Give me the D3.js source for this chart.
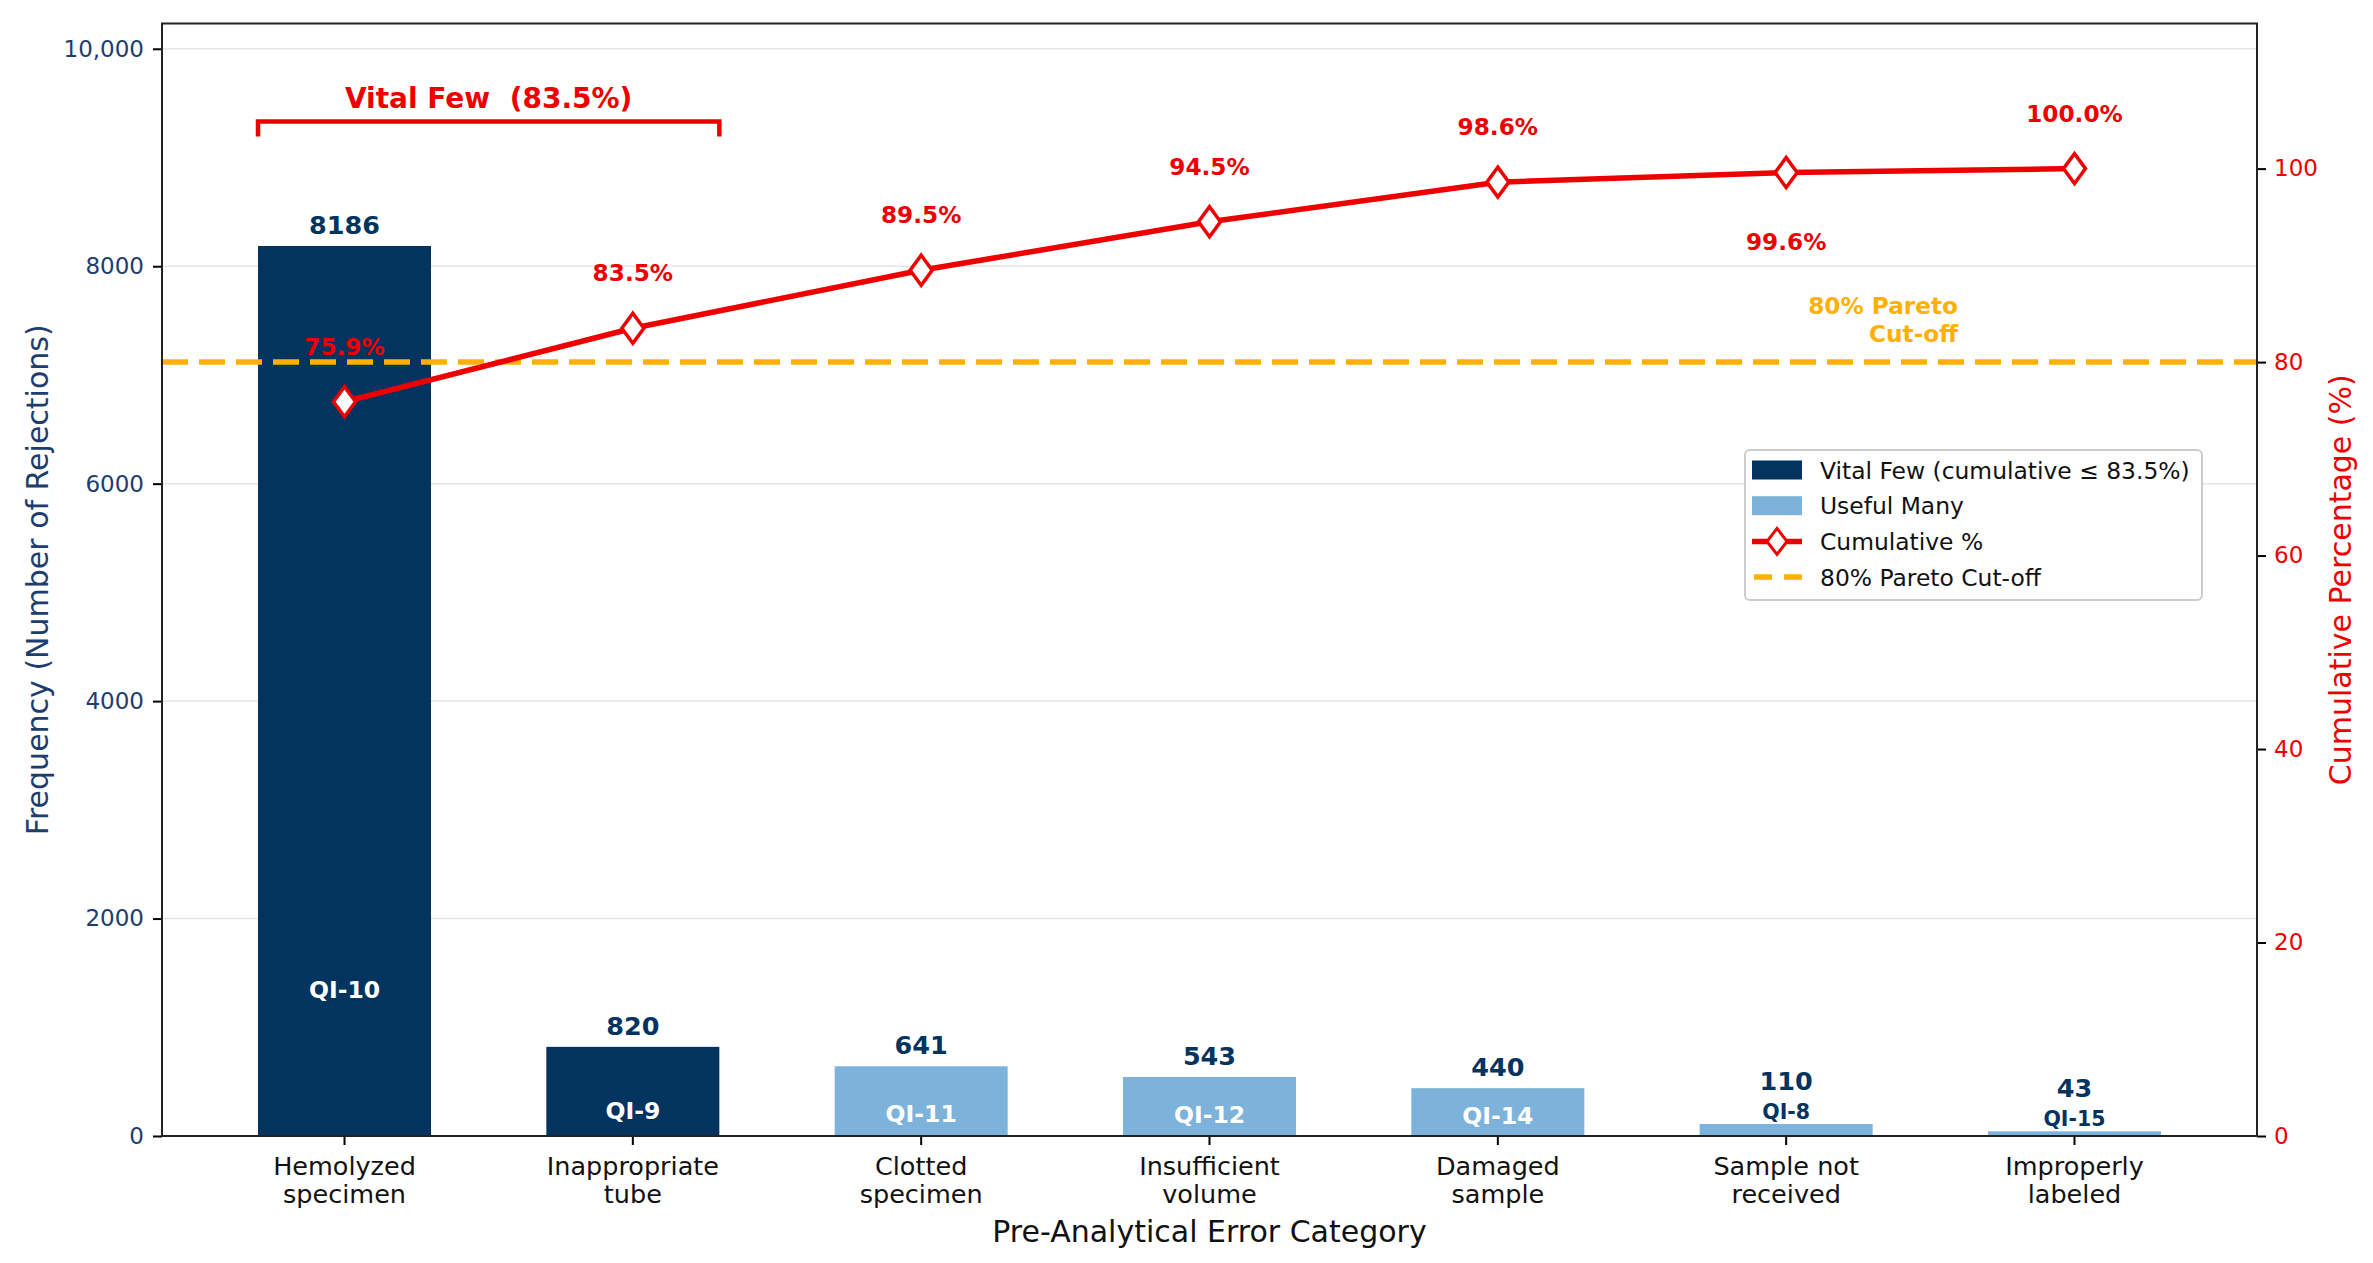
<!DOCTYPE html>
<html>
<head>
<meta charset="utf-8">
<script src="https://cdn.jsdelivr.net/npm/d3@7"></script>
<style>
  body { margin: 0; background: #fff; }
  svg { display: block; font-family: "DejaVu Sans", sans-serif; }
</style>
</head>
<body>
<svg id="chart"></svg>
<script>
// data
const categories = ["Hemolyzed\nspecimen", "Inappropriate\ntube", "Clotted\nspecimen", "Insufficient\nvolume",
  "Damaged\nsample", "Sample not\nreceived", "Improperly\nlabeled"];
const codes = ["QI-10", "QI-9", "QI-11", "QI-12", "QI-14", "QI-8", "QI-15"];
const counts = [8186, 820, 641, 543, 440, 110, 43];
const cumPct = [75.9, 83.5, 89.5, 94.5, 98.6, 99.6, 100.0];
const vitalCutoff = 83.5;
const paretoCut = 80;
const leftTicks = [0, 2000, 4000, 6000, 8000, 10000];
const leftTickLabels = ["0", "2000", "4000", "6000", "8000", "10,000"];
const rightTicks = [0, 20, 40, 60, 80, 100];

const W = 2373, H = 1263;
const pL = 162, pR = 2257, pT = 23.5, pB = 1136;

const navy = "#03335f", light = "#7db3da", red = "#ee0000", orange = "#ffb000", tickNavy = "#1c3d6e";

const svg = d3.select("#chart").attr("width", W).attr("height", H);

const x = d3.scaleBand().domain(d3.range(counts.length)).range([pL, pR])
  .paddingInner(0.4).paddingOuter(0.333);
const yL = d3.scaleLinear().domain([0, d3.max(counts) * 1.25]).range([pB, pT]);
const yR = d3.scaleLinear().domain([0, 115]).range([pB, pT]);
const cx = i => x(i) + x.bandwidth() / 2;

//gridlines
svg.append("g").selectAll("line").data(leftTicks).enter().append("line")
  .attr("x1", pL).attr("x2", pR)
  .attr("y1", d => yL(d)).attr("y2", d => yL(d))
  .attr("stroke", "#e6e6e6").attr("stroke-width", 1.5);

// bars
svg.append("g").selectAll("rect").data(counts).enter().append("rect")
  .attr("x", (d, i) => x(i))
  .attr("width", x.bandwidth())
  .attr("y", d => yL(d))
  .attr("height", d => pB - yL(d))
  .attr("fill", (d, i) => cumPct[i] <= vitalCutoff ? navy : light);

// value labels + QI codes
const small = d => pB - yL(d) < 30;
svg.append("g").selectAll("text").data(counts).enter().append("text")
  .attr("x", (d, i) => cx(i))
  .attr("y", d => yL(d) - (small(d) ? 34 : 12))
  .attr("text-anchor", "middle")
  .attr("font-size", 25.5).attr("font-weight", "bold").attr("fill", navy)
  .text(d => d);

svg.append("g").selectAll("text").data(counts).enter().append("text")
  .attr("x", (d, i) => cx(i))
  .attr("y", d => {
    const hp = pB - yL(d);
    if (small(d)) return yL(d) - 5;
    if (d > 5000) return yL(d * 0.164) + 8;
    return pB - (14 + hp * 0.12) + 8;
  })
  .attr("text-anchor", "middle")
  .attr("font-weight", "bold")
  .attr("font-size", d => small(d) ? 20.5 : 23.5)
  .attr("fill", d => small(d) ? navy : "#fff")
  .text((d, i) => codes[i]);

// 80% cut-off
svg.append("line")
  .attr("x1", pL).attr("x2", pR)
  .attr("y1", yR(paretoCut)).attr("y2", yR(paretoCut))
  .attr("stroke", orange).attr("stroke-width", 5.5).attr("stroke-dasharray", "26,11");

svg.append("text")
  .attr("x", 1958).attr("y", yR(paretoCut) - 48)
  .attr("text-anchor", "end").attr("font-size", 23.2).attr("font-weight", "bold").attr("fill", orange)
  .text("80% Pareto");
svg.append("text")
  .attr("x", 1958).attr("y", yR(paretoCut) - 20)
  .attr("text-anchor", "end").attr("font-size", 23.2).attr("font-weight", "bold").attr("fill", orange)
  .text("Cut-off");

// cumulative line
const line = d3.line().x((d, i) => cx(i)).y(d => yR(d));
svg.append("path").datum(cumPct)
  .attr("d", line).attr("fill", "none")
  .attr("stroke", red).attr("stroke-width", 5.5).attr("stroke-linejoin", "round");

const diamond = "M0,-15L11,0L0,15L-11,0Z";
svg.append("g").selectAll("path").data(cumPct).enter().append("path")
  .attr("d", diamond)
  .attr("transform", (d, i) => "translate(" + cx(i) + "," + yR(d) + ")")
  .attr("fill", "#fff").attr("stroke", red).attr("stroke-width", 3.5);

svg.append("g").selectAll("text").data(cumPct).enter().append("text")
  .attr("x", (d, i) => cx(i))
  .attr("y", (d, i) => i === cumPct.length - 2 ? yR(d) + 78 : yR(d) - 47)
  .attr("text-anchor", "middle")
  .attr("font-size", 23.2).attr("font-weight", "bold").attr("fill", red)
  .text(d => d.toFixed(1) + "%");

// vital few bracket
const vitalIdx = cumPct.map((d, i) => i).filter(i => cumPct[i] <= vitalCutoff);
const bx1 = x(vitalIdx[0]), bx2 = x(vitalIdx[vitalIdx.length - 1]) + x.bandwidth();
const bTop = yL(d3.max(counts) * 1.14), bTick = yL(d3.max(counts) * 1.123);
svg.append("path")
  .attr("d", "M" + bx1 + "," + bTick + "V" + bTop + "H" + bx2 + "V" + bTick)
  .attr("fill", "none").attr("stroke", red).attr("stroke-width", 4.5);
svg.append("text")
  .attr("x", (bx1 + bx2) / 2).attr("y", yL(d3.max(counts) * 1.155))
  .attr("text-anchor", "middle").style("white-space", "pre")
  .attr("font-size", 28).attr("font-weight", "bold").attr("fill", red)
  .text("Vital Few  (" + vitalCutoff.toFixed(1) + "%)");

// axes
const xAxis = d3.axisBottom(x).tickSize(9).tickSizeOuter(0).tickFormat(i => categories[i]);
const gx = svg.append("g").attr("transform", "translate(0," + pB + ")").call(xAxis);
gx.select(".domain").remove();
gx.selectAll(".tick line").attr("stroke", "#000").attr("stroke-width", 2);
gx.selectAll(".tick text").attr("fill", "#111").attr("font-size", 25.5).attr("font-family", "DejaVu Sans")
  .each(function(i) {
    const t = d3.select(this);
    const parts = categories[i].split("\n");
    t.text(null).attr("y", 0).attr("dy", null);
    parts.forEach((p, k) => {
      t.append("tspan").attr("x", 0).attr("y", 39 + k * 28).text(p);
    });
  });

const yAxisL = d3.axisLeft(yL).tickValues(leftTicks).tickSize(9).tickSizeOuter(0)
  .tickFormat((d, i) => leftTickLabels[i]);
const gyl = svg.append("g").attr("transform", "translate(" + pL + ",0)").call(yAxisL);
gyl.select(".domain").remove();
gyl.selectAll(".tick line").attr("stroke", "#000").attr("stroke-width", 2);
gyl.selectAll(".tick text").attr("fill", tickNavy).attr("font-size", 23).attr("font-family", "DejaVu Sans")
  .attr("x", -18);

const yAxisR = d3.axisRight(yR).tickValues(rightTicks).tickSize(9).tickSizeOuter(0);
const gyr = svg.append("g").attr("transform", "translate(" + pR + ",0)").call(yAxisR);
gyr.select(".domain").remove();
gyr.selectAll(".tick line").attr("stroke", "#000").attr("stroke-width", 2);
gyr.selectAll(".tick text").attr("fill", red).attr("font-size", 23).attr("font-family", "DejaVu Sans")
  .attr("x", 17);

// frame
svg.append("rect")
  .attr("x", pL).attr("y", pT).attr("width", pR - pL).attr("height", pB - pT)
  .attr("fill", "none").attr("stroke", "#222").attr("stroke-width", 2);

// axis titles
svg.append("text")
  .attr("transform", "translate(37," + (pT + pB) / 2 + ") rotate(-90)")
  .attr("text-anchor", "middle").attr("dy", "0.35em")
  .attr("font-size", 30).attr("fill", tickNavy)
  .text("Frequency (Number of Rejections)");
svg.append("text")
  .attr("transform", "translate(2340," + (pT + pB) / 2 + ") rotate(-90)")
  .attr("text-anchor", "middle").attr("dy", "0.35em")
  .attr("font-size", 30).attr("fill", red)
  .text("Cumulative Percentage (%)");
svg.append("text")
  .attr("x", (pL + pR) / 2).attr("y", 1242)
  .attr("text-anchor", "middle").attr("font-size", 30).attr("fill", "#111")
  .text("Pre-Analytical Error Category");

// legend
const legendItems = ["Vital Few (cumulative \u2264 " + vitalCutoff.toFixed(1) + "%)", "Useful Many", "Cumulative %", "80% Pareto Cut-off"];
const lg = svg.append("g").attr("transform", "translate(1745,450)");
lg.append("rect").attr("width", 457).attr("height", 150).attr("rx", 5)
  .attr("fill", "#fff").attr("stroke", "#cccccc").attr("stroke-width", 2);
const rows = lg.selectAll("g").data(legendItems).enter().append("g")
  .attr("transform", (d, i) => "translate(0," + (20 + i * 35.7) + ")");
rows.filter((d, i) => i < 2).append("rect")
  .attr("x", 7).attr("y", -9.5).attr("width", 50).attr("height", 19)
  .attr("fill", (d, i) => i === 0 ? navy : light);
rows.filter((d, i) => i === 2).append("line")
  .attr("x1", 7).attr("x2", 57).attr("stroke", red).attr("stroke-width", 5.5);
rows.filter((d, i) => i === 2).append("path")
  .attr("d", "M0,-13L10,0L0,13L-10,0Z").attr("transform", "translate(32,0)")
  .attr("fill", "#fff").attr("stroke", red).attr("stroke-width", 3);
rows.filter((d, i) => i === 3).append("line")
  .attr("x1", 9).attr("x2", 57).attr("stroke", orange).attr("stroke-width", 5.5)
  .attr("stroke-dasharray", "18,12");
rows.append("text").attr("x", 75).attr("y", 8.5)
  .attr("font-size", 23.4).attr("fill", "#111").text(d => d);
</script>
</body>
</html>
